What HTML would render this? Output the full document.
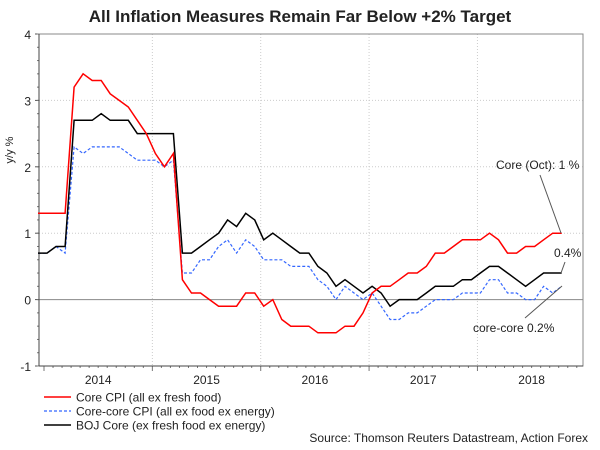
<!DOCTYPE html>
<html><head><meta charset="utf-8"><style>
body{margin:0;background:#fff}
svg{display:block;font-family:"Liberation Sans",sans-serif}
</style></head><body>
<svg id="chart" width="600" height="450" viewBox="0 0 600 450">
<text x="300" y="22" text-anchor="middle" font-size="17" font-weight="bold" fill="#222">All Inflation Measures Remain Far Below +2% Target</text>
<text transform="translate(13,150) rotate(-90)" text-anchor="middle" font-size="11" fill="#222">y/y %</text>
<g id="grid"></g><g id="axes"></g><g id="series"></g>
<g>
<text x="496" y="169" font-size="12" fill="#222">Core (Oct): 1 %</text>
<line x1="540" y1="175" x2="561" y2="233" stroke="#555" stroke-width="1"/>
<text x="554" y="257" font-size="12" fill="#222">0.4%</text>
<line x1="565" y1="262" x2="561" y2="273" stroke="#555" stroke-width="1"/>
<text x="473" y="332" font-size="12" fill="#222">core-core 0.2%</text>
<line x1="525" y1="318" x2="562" y2="286" stroke="#555" stroke-width="1"/>
</g>
<g>
<line x1="44" y1="397" x2="71" y2="397" stroke="#f00" stroke-width="1.5"/>
<text x="76" y="401.5" font-size="12" fill="#222">Core CPI (all ex fresh food)</text>
<line x1="44" y1="411" x2="71" y2="411" stroke="#3366ff" stroke-width="1.2" stroke-dasharray="3,2"/>
<text x="76" y="415.5" font-size="12" fill="#222">Core-core CPI (all ex food ex energy)</text>
<line x1="44" y1="425" x2="71" y2="425" stroke="#000" stroke-width="1.5"/>
<text x="76" y="429.5" font-size="12" fill="#222">BOJ Core (ex fresh food ex energy)</text>
</g>
<text x="588" y="442" text-anchor="end" font-size="12" fill="#222">Source: Thomson Reuters Datastream, Action Forex</text>
</svg>
<script>
const coreCPI=[1.3,1.3,1.3,1.3,3.2,3.4,3.3,3.3,3.1,3.0,2.9,2.7,2.5,2.2,2.0,2.2,0.3,0.1,0.1,0.0,-0.1,-0.1,-0.1,0.1,0.1,-0.1,0.0,-0.3,-0.4,-0.4,-0.4,-0.5,-0.5,-0.5,-0.4,-0.4,-0.2,0.1,0.2,0.2,0.3,0.4,0.4,0.5,0.7,0.7,0.8,0.9,0.9,0.9,1.0,0.9,0.7,0.7,0.8,0.8,0.9,1.0,1.0];
const coreCoreCPI=[0.7,0.7,0.8,0.7,2.3,2.2,2.3,2.3,2.3,2.3,2.2,2.1,2.1,2.1,2.0,2.1,0.4,0.4,0.6,0.6,0.8,0.9,0.7,0.9,0.8,0.6,0.6,0.6,0.5,0.5,0.5,0.3,0.2,0.0,0.2,0.1,0.0,0.1,-0.1,-0.3,-0.3,-0.2,-0.2,-0.1,0.0,0.0,0.0,0.1,0.1,0.1,0.3,0.3,0.1,0.1,0.0,0.0,0.2,0.1,0.2];
const bojCore=[0.7,0.7,0.8,0.8,2.7,2.7,2.7,2.8,2.7,2.7,2.7,2.5,2.5,2.5,2.5,2.5,0.7,0.7,0.8,0.9,1.0,1.2,1.1,1.3,1.2,0.9,1.0,0.9,0.8,0.7,0.7,0.5,0.4,0.2,0.3,0.2,0.1,0.2,0.1,-0.1,0.0,0.0,0.0,0.1,0.2,0.2,0.2,0.3,0.3,0.4,0.5,0.5,0.4,0.3,0.2,0.3,0.4,0.4,0.4];
const yTicks=[-1,0,1,2,3,4];
const yearLabels=["2014","2015","2016","2017","2018"];
const firstMonth=-1; // Dec 2013 relative to Jan 2014

const NS="http://www.w3.org/2000/svg";
const L=39,R=583,T=34,B=366,yMin=-1,yMax=4;
const x0=44,monthW=9.03;
const xs=m=>x0+m*monthW+3;
const ys=v=>B-(v-yMin)/(yMax-yMin)*(B-T);
function mk(tag,attrs,parent){const e=document.createElementNS(NS,tag);for(const k in attrs)e.setAttribute(k,attrs[k]);parent.appendChild(e);return e;}
const grid=document.getElementById('grid'),axes=document.getElementById('axes'),ser=document.getElementById('series');
yTicks.forEach(v=>{
  if(v!==yMin&&v!==0){const g=mk('line',{x1:L,x2:R,y1:ys(v),y2:ys(v),stroke:'#ccc','stroke-dasharray':'1,2'},grid);
  
  }
  const t=mk('text',{x:L-8,y:ys(v)+5,'text-anchor':'end','font-size':12,fill:'#222'},axes);t.textContent=v;
  
  
  mk('line',{x1:L-4,x2:L,y1:ys(v),y2:ys(v),stroke:'#555'},axes);
});
for(let v=yMin;v<=yMax+1e-9;v+=0.2){mk('line',{x1:L-2,x2:L,y1:ys(v),y2:ys(v),stroke:'#777'},axes);}
yearLabels.forEach((y,i)=>{
  const gx=x0+(i+1)*12*monthW;
  if(gx<R){const g=mk('line',{x1:gx,x2:gx,y1:T,y2:B,stroke:'#ccc','stroke-dasharray':'1,2'},grid);
  
  }
  const t=mk('text',{x:x0+(i*12+6)*monthW,y:384,'text-anchor':'middle','font-size':12,fill:'#222'},axes);t.textContent=y;
  
  
});
for(let m=0;m<=60;m++){const x=x0+m*monthW;if(x>R)break;mk('line',{x1:x,x2:x,y1:B,y2:B+(m%12===0?5:2),stroke:'#777'},axes);}
const zl=mk('line',{x1:L,x2:R,y1:ys(0),y2:ys(0),stroke:'#888'},axes);


mk('rect',{x:L,y:T,width:R-L,height:B-T,fill:'none',stroke:'#888'},axes);
mk('line',{x1:L,x2:L,y1:T,y2:B,stroke:'#444'},axes);
mk('line',{x1:L,x2:R,y1:B,y2:B,stroke:'#444'},axes);
function path(arr,color,dash,w,name){
  const d=arr.map((v,i)=>(i?'L':'M')+xs(firstMonth+i).toFixed(1)+','+ys(v).toFixed(1)).join(' ');
  const p=mk('path',{d:d,fill:'none',stroke:color,'stroke-width':w},ser);
  if(dash)p.setAttribute('stroke-dasharray',dash);
  
  
}
path(coreCoreCPI,'#3366ff','3,2',1.2,'core-core-cpi-line');
path(bojCore,'#000',null,1.5,'boj-core-line');
path(coreCPI,'#f00',null,1.5,'core-cpi-line');
</script>
</body></html>
